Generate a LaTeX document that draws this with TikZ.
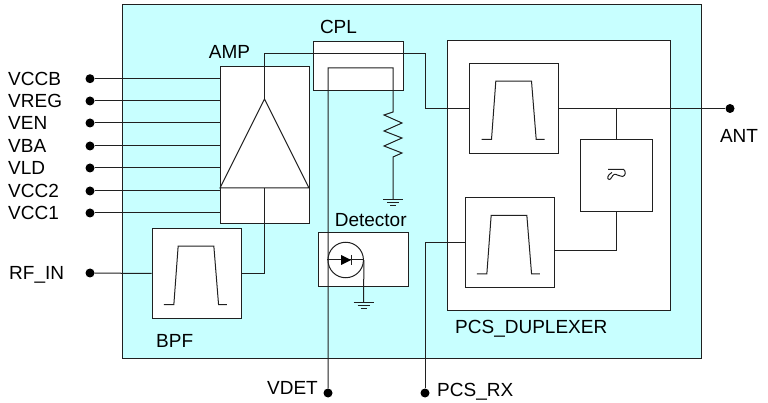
\documentclass[tikz,border=0pt]{standalone}
\usepackage{fontspec}
\setmainfont{Liberation Sans}
\usetikzlibrary{calc}
\definecolor{modulecyan}{HTML}{C8FFFF}
\definecolor{wirecolor}{HTML}{202020}
\tikzset{
  box/.style={draw=wirecolor,fill=white,line width=1pt,inner sep=0pt,minimum width=#1},
  box/.default=90pt,
  wire/.style={draw=wirecolor,line width=1pt},
  pin/.style={circle,fill=black,inner sep=0pt,minimum size=9pt},
  lab/.style={inner sep=0pt,text depth=0pt,font=\fontsize{19}{19}\selectfont},
}
% pass band curve, placed from the corner of a filter box
\newcommand{\passband}[1]{
  \draw[wire] ($(#1.north west)+(12.3,76.3)$) -- ++(10,0) -- ++(4.3,-58.3) -- ++(35.7,0) -- ++(4.7,58.3) -- ++(8.3,0);
}
% ground symbol
\newcommand{\groundmark}[1]{
  \draw[wire] ($(#1)+(-10,0)$) -- ($(#1)+(10,0)$)
  ($(#1)+(-6,3)$) -- ($(#1)+(6,3)$)
  ($(#1)+(-3,6)$) -- ($(#1)+(3,6)$);
}
\begin{document}
\begin{tikzpicture}[x=1pt,y=-1pt]
  \useasboundingbox (0,0) rectangle (768,403);
  \node[draw=wirecolor,fill=modulecyan,line width=1pt,inner sep=0pt,minimum width=579pt,minimum height=353pt] (module) at (411.5,181.5) {};
  \node[box=223pt,minimum height=269pt] (duplexer) at (558.5,175.5) {};
  \node[box=89pt,minimum height=157pt] (amp) at (264.5,145.5) {};
  \node[box=90pt,minimum height=49pt] (cpl) at (358,66.5) {};
  \node[box=90pt,minimum height=54pt] (detector) at (363,260) {};
  \node[box=89.3pt,minimum height=89.6pt] (bpf) at (196.7,273.5) {};
  \node[box=89pt,minimum height=89.6pt] (txfilter) at (514.2,108.5) {};
  \node[box=89.7pt,minimum height=90pt] (rxfilter) at (509.9,243) {};
  \node[box=71.7pt,minimum height=72pt] (shifter) at (616.8,175.7) {};

  \passband{bpf}
  \passband{txfilter}
  \passband{rxfilter}

  % pins on the left
  \foreach \name/\ypos in {VCCB/78.7,VREG/101,VEN/123,VBA/146,VLD/168,VCC2/191,VCC1/213}{
    \node[pin] (pin\name) at (90,\ypos) {};
    \node[lab,anchor=west] (lab\name) at (8,\ypos) {\name};
    \draw[wire] (pin\name) -- (pin\name -| amp.west);
  }
  \node[pin] (rfin) at (90,273) {};
  \node[lab,anchor=west] (labrfin) at (9,273.3) {RF\_IN};
  \node[pin] (vdet) at (328,393) {};
  \node[lab,anchor=east] (labvdet) at (318,388) {VDET};
  \node[pin] (pcsrx) at (425,393) {};
  \node[lab,anchor=west] (labpcsrx) at (437,390) {PCS\_RX};
  \node[pin] (ant) at (730,108.5) {};
  \node[lab] (labant) at (739,136) {ANT};

  \node[lab] (labamp) at (229.5,51.7) {AMP};
  \node[lab] (labcpl) at (338.5,26.7) {CPL};
  \node[lab] (labdetector) at (370.7,220) {Detector};
  \node[lab,anchor=west] (labbpf) at (156,340.7) {BPF};
  \node[lab,anchor=west] (labduplexer) at (455,327.3) {PCS\_DUPLEXER};

  % amplifier
  \coordinate (apex) at (264.5,99);
  \coordinate (baseleft) at (220,188);
  \coordinate (baseright) at (309,188);
  \coordinate (basemid) at (264.5,188);
  \draw[wire] (apex) -- (baseleft) -- (baseright) -- cycle;
  \draw[wire] (bpf.east) -- (bpf.east -| basemid) -- (basemid);
  \draw[wire] (rfin) -- (bpf.west);
  \draw[wire] (apex) -- (264.5,54) -- (425,54) -- (425,108.5) -- (txfilter.west);
  \draw[wire] (txfilter.east) -- (ant);

  % coupled line, resistor and ground
  \coordinate (gndres) at (393,200);
  \draw[wire] (vdet) -- (328,68) -- (393,68) -- (393,112) -- (384,115) -- (402,123) -- (384,131) -- (402,138)
    -- (384,146) -- (402,153) -- (393,157) -- (gndres);
  \groundmark{gndres}

  % detector diode
  \node[draw=wirecolor,circle,line width=1pt,inner sep=0pt,minimum size=35.5pt] (diode) at (345.7,260) {};
  \draw[wire] (diode.west) -- (diode.east);
  \fill[black] (341,255) -- (351,260) -- (341,265) -- cycle;
  \draw[wire] (351,255) -- (351,265);
  \coordinate (gnddiode) at (363.5,302);
  \draw[wire] (diode.east) -- (gnddiode);
  \groundmark{gnddiode}

  % duplexer wiring
  \draw[wire] (shifter.north) -- (shifter.north |- txfilter.east);
  \draw[wire] (shifter.south) -- (616.8,251) -- (rxfilter.east |- 0,251);
  \draw[wire] (rxfilter.west) -- (425,243) -- (pcsrx);
  % squiggle inside the shifter
  \draw[wire] (608,169.3) -- (623.5,169.3) .. controls (626,171) and (626,176) .. (622.5,176.5)
    .. controls (619,177) and (617,173.5) .. (614,174.5) .. controls (612,175.5) and (611,180) .. (609,179.5)
    .. controls (607,179) and (607,175) .. (612,172.5);
\end{tikzpicture}
\end{document}
